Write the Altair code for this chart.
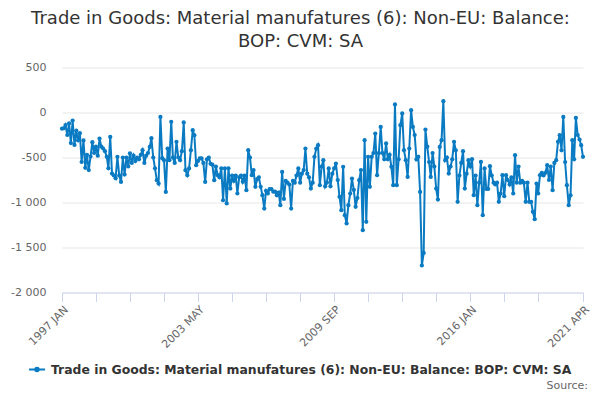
import altair as alt
import pandas as pd

series_name = "Trade in Goods: Material manufatures (6): Non-EU: Balance: BOP: CVM: SA"
title_lines = ["Trade in Goods: Material manufatures (6): Non-EU: Balance:", "BOP: CVM: SA"]
start_month = "1997-01-01"

values = [
    -180, -175, -140, -250, -120, -340, -90, -360, -200, -310, -230, -550,
    -310, -615, -470, -640, -490, -330, -450, -380, -480, -290, -380, -400,
    -430, -493, -620, -271, -678, -700, -730, -493, -700, -771, -500, -690,
    -500, -600, -453, -560, -480, -540, -500, -520, -470, -419, -560, -480,
    -450, -382, -286, -500, -620, -752, -789, -49, -508, -530, -882, -400,
    -530, -104, -500, -560, -326, -500, -530, -430, -111, -641, -697, -622,
    -419, -197, -252, -586, -540, -511, -510, -560, -771, -520, -500, -570,
    -580, -752, -600, -697, -720, -620, -975, -622, -1011, -620, -845, -700,
    -760, -700, -900, -720, -700, -770, -700, -863, -419, -500, -697, -640,
    -826, -740, -720, -826, -919, -1067, -870, -900, -850, -850, -880, -880,
    -920, -890, -1030, -660, -960, -760, -780, -800, -1067, -760, -780, -700,
    -622, -780, -680, -640, -400, -680, -720, -845, -780, -493, -400, -363,
    -808, -600, -530, -820, -780, -622, -820, -680, -620, -567, -750, -937,
    -1085, -604, -1141, -1233, -1030, -900, -734, -860, -1048, -950, -752, -640,
    -1308, -308, -1215, -493, -826, -493, -450, -234, -697, -450, -160, -450,
    -520, -344, -520, -470, -604, -808, 89, -808, -520, -141, -10, -419,
    -530, -716, -400, 26, -160, -250, -520, -493, -882, -1700, -1560, -189,
    -380, -550, -716, -450, -600, -845, -967, -382, -308, 126, -530, -500,
    -678, -600, -520, -326, -420, -993, -700, -560, -430, -845, -680, -530,
    -600, -519, -919, -700, -1030, -780, -549, -1141, -622, -850, -850, -597,
    -700, -780, -800, -780, -993, -900, -697, -930, -697, -750, -800, -720,
    -900, -474, -780, -600, -780, -760, -780, -993, -780, -993, -993, -1104,
    -1186, -789, -900, -697, -670, -700, -670, -586, -750, -600, -863, -560,
    -530, -326, -252, -420, -49, -550, -808, -1030, -920, -308, -520, -60,
    -250, -300, -363, -493,
]

tick_index = [0, 19, 38, 57, 76, 95, 114, 133, 152, 171, 190, 209, 228, 247, 266, 291]
label_months = ["1997-01", "2003-05", "2009-09", "2016-01", "2021-04"]
y_ticks = [500, 0, -500, -1000, -1500, -2000]

months = pd.date_range(start_month, periods=len(values), freq="MS")
df = pd.DataFrame({
    "month": months.strftime("%Y-%m-%d"),
    "value": values,
    "series": series_name,
})

tick_values = [alt.DateTime(year=int(months[i].year), month=int(months[i].month), date=1, utc=True)
               for i in tick_index]

blue = "#0a7bc2"
font = "DejaVu Sans"

label_list = "[" + ",".join("'%s'" % m for m in label_months) + "]"
x_label_expr = ("indexof(%s, utcFormat(datum.value, '%%Y-%%m')) >= 0 ? "
                "upper(utcFormat(datum.value, '%%Y %%b')) : ''") % label_list

legend_symbol = "M-1,0H1M-0.22,0a0.22,0.22 0 1,0 0.44,0a0.22,0.22 0 1,0 -0.44,0"

line = alt.Chart(df).mark_line(
    strokeWidth=2,
    point=alt.OverlayMarkDef(filled=True, size=18, color=blue),
).encode(
    x=alt.X(
        "month:T",
        scale=alt.Scale(type="utc", domain=[months[0].strftime("%Y-%m-%d"), months[-1].strftime("%Y-%m-%d")], nice=False),
        axis=alt.Axis(
            title=None,
            values=tick_values,
            labelExpr=x_label_expr,
            labelAngle=-45,
            labelAlign="right",
            labelBaseline="top",
            labelPadding=2,
            labelFont=font,
            labelFontSize=11,
            labelColor="#666666",
            tickColor="#ccd6eb",
            tickSize=9,
            domainColor="#ccd6eb",
            grid=False,
            labelOverlap=False,
            labelBound=False,
            labelFlush=False,
        ),
    ),
    y=alt.Y(
        "value:Q",
        scale=alt.Scale(domain=[-2000, 500], nice=False),
        axis=alt.Axis(
            title=None,
            values=y_ticks,
            labelExpr="replace(replace(format(datum.value, ','), ',', ' '), '\u2212', '-')",
            labelFont=font,
            labelFontSize=11,
            labelColor="#666666",
            labelPadding=16,
            domain=False,
            ticks=False,
            gridColor="#e6e6e6",
        ),
    ),
    color=alt.Color(
        "series:N",
        scale=alt.Scale(range=[blue]),
        legend=alt.Legend(
            title=None,
            orient="none",
            legendX=-34,
            legendY=293,
            symbolType=legend_symbol,
            symbolSize=256,
            symbolStrokeWidth=2,
            symbolFillColor=blue,
            labelFont=font,
            labelFontSize=12.4,
            labelFontWeight="bold",
            labelColor="#333333",
            labelLimit=700,
            labelOffset=5,
        ),
    ),
)

source_df = pd.DataFrame({"t": ["Source:"]})
source = alt.Chart(source_df).mark_text(
    align="right", baseline="middle", font=font, fontSize=11, color="#666666"
).encode(
    text="t:N",
    x=alt.value(526),
    y=alt.value(318.5),
)

chart = alt.layer(line, source).properties(
    width=521,
    height=225,
    padding={"left": 54, "top": 59.5, "right": 9, "bottom": 99.5},
    autosize=alt.AutoSizeParams(type="none"),
    title=alt.TitleParams(
        text=title_lines,
        font=font,
        fontSize=18,
        fontWeight="normal",
        color="#333333",
        anchor="middle",
        dx=-22,
        offset=11,
        lineHeight=23,
    ),
).configure_view(stroke=None)

chart.save("out.html", embed_options={"renderer": "svg", "actions": False})
